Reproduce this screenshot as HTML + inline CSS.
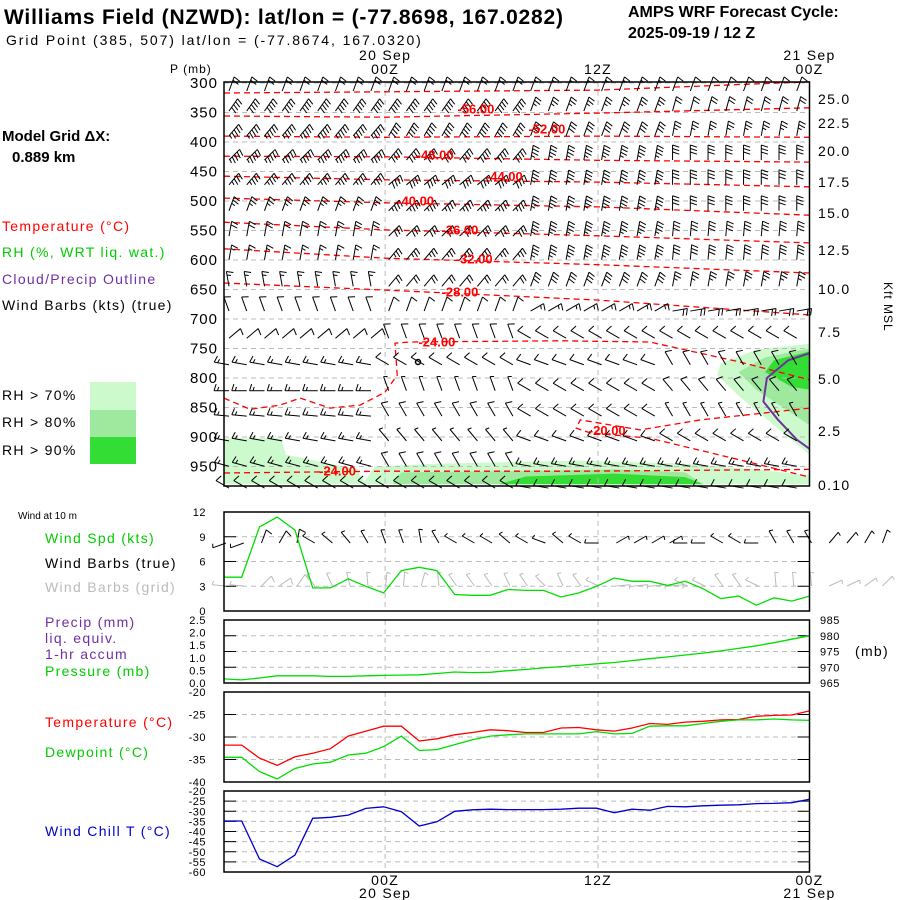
<!DOCTYPE html>
<html><head><meta charset="utf-8">
<style>
body{margin:0;background:#fff;}
svg{display:block;font-family:"Liberation Sans",sans-serif;}
.t{font-size:14px;letter-spacing:1.3px}
.s{font-size:12px;letter-spacing:1px}
</style></head>
<body>
<svg id="chart" width="900" height="900" viewBox="0 0 900 900" xmlns="http://www.w3.org/2000/svg">
<rect width="900" height="900" fill="#fff"/>
<g>
<text x="4" y="24" font-size="21" font-weight="bold" letter-spacing="0.8">Williams Field (NZWD):  lat/lon = (-77.8698, 167.0282)</text>
<text x="6" y="45" font-size="14" letter-spacing="1.9">Grid Point (385, 507) lat/lon = (-77.8674, 167.0320)</text>
<text x="628" y="17" font-size="16" font-weight="bold">AMPS WRF Forecast Cycle:</text>
<text x="628" y="38" font-size="16" font-weight="bold">2025-09-19 / 12  Z</text>
</g>
<g>
<text x="2" y="141" font-size="15" font-weight="bold">Model Grid ΔX:</text>
<text x="12" y="162" font-size="15" font-weight="bold">0.889 km</text>
<text x="2" y="231" class="t" fill="#ff0000">Temperature (°C)</text>
<text x="2" y="257" class="t" fill="#00cc00">RH (%, WRT liq. wat.)</text>
<text x="2" y="284" class="t" fill="#7030a0">Cloud/Precip Outline</text>
<text x="2" y="310" class="t">Wind Barbs (kts) (true)</text>
<rect x="90" y="382" width="46" height="28" fill="#ccfacc"/>
<rect x="90" y="410" width="46" height="27" fill="#9ee99e"/>
<rect x="90" y="437" width="46" height="27" fill="#33dd33"/>
<text x="2" y="400" class="t">RH &gt; 70%</text>
<text x="2" y="427" class="t">RH &gt; 80%</text>
<text x="2" y="455" class="t">RH &gt; 90%</text>
<text x="18" y="519" font-size="10">Wind at 10 m</text>
<text x="45" y="543" class="t" fill="#00cc00">Wind Spd (kts)</text>
<text x="45" y="568" class="t">Wind Barbs (true)</text>
<text x="45" y="592" class="t" fill="#bbbbbb">Wind Barbs (grid)</text>
<text x="45" y="627" class="t" fill="#7030a0">Precip (mm)</text>
<text x="45" y="643" class="t" fill="#7030a0">liq. equiv.</text>
<text x="45" y="659" class="t" fill="#7030a0">1-hr accum</text>
<text x="45" y="676" class="t" fill="#00cc00">Pressure (mb)</text>
<text x="45" y="727" class="t" fill="#ff0000">Temperature (°C)</text>
<text x="45" y="757" class="t" fill="#00cc00">Dewpoint (°C)</text>
<text x="45" y="836" class="t" fill="#0000cc">Wind Chill T (°C)</text>
</g>
<g id="plots"></g>
</svg>
<script>
// ---------- data ----------
const hours = [0,1,2,3,4,5,6,7,8,9,10,11,12,13,14,15,16,17,18,19,20,21,22,23,24,25,26,27,28,29,30,31,32,33];
const windSpd = [4.1,4.1,10.2,11.4,9.8,2.8,2.8,3.9,3.0,2.2,4.9,5.3,4.9,2.0,1.9,1.9,2.6,2.5,2.5,1.7,2.2,3.0,4.0,3.6,3.6,3.1,3.6,2.7,1.5,1.8,0.7,1.6,1.2,1.8];
const pressure = [966.3,966.0,966.6,967.3,967.3,967.3,967.1,967.1,967.3,967.4,967.5,967.6,968.0,968.5,968.3,968.4,968.9,969.3,969.8,970.2,970.6,971.1,971.5,972.1,972.7,973.3,973.9,974.5,975.2,976.0,976.8,977.8,978.9,980.0];
const temp = [-31.8,-31.8,-34.7,-36.3,-34.4,-33.6,-32.6,-29.8,-28.7,-27.6,-27.6,-30.9,-30.4,-29.5,-29.0,-28.4,-28.6,-29.0,-29.0,-28.0,-27.9,-28.4,-28.7,-28.0,-27.0,-27.2,-26.7,-26.5,-26.2,-26.1,-25.4,-25.2,-25.1,-24.2];
const dewpt = [-34.5,-34.5,-37.7,-39.3,-37.0,-36.0,-35.6,-34.0,-33.6,-32.1,-29.8,-33.0,-32.8,-31.7,-30.6,-29.8,-29.5,-29.3,-29.3,-29.3,-29.3,-28.8,-29.3,-29.2,-27.6,-27.5,-27.5,-27.0,-26.5,-26.2,-26.2,-26.0,-26.2,-26.3];
const windChill = [-34.8,-34.8,-53.6,-57.4,-51.6,-33.5,-33.0,-31.9,-28.6,-27.8,-30.2,-37.3,-35.2,-30.0,-29.3,-29.0,-29.2,-29.2,-29.2,-29.0,-28.5,-28.5,-30.7,-29.0,-29.5,-27.6,-27.8,-27.3,-27.0,-26.8,-26.2,-26.1,-25.8,-24.1];
const sfcDir = [250,250,20,30,10,300,310,320,330,340,340,350,330,300,300,300,310,300,290,310,300,270,60,60,60,60,270,270,300,300,270,330,330,330,40,40,30,20];
const sfcSpd = [5,5,10,10,10,5,5,5,5,5,5,5,5,5,5,5,5,5,5,5,5,5,5,5,5,5,5,5,5,5,5,5,5,5,5,5,5,5];
const pLevels = [300,350,400,450,500,550,600,650,700,750,800,850,900,950];
const pTickLabels = ["300","350","400","450","500","550","600","650","700","750","800","850","900","950"];
const kftTicks = [["25.0",99],["22.5",123],["20.0",151],["17.5",182],["15.0",213],["12.5",250],["10.0",289],["7.5",332],["5.0",379],["2.5",431],["0.10",485]];
const barbLevels = [300,334,376,417,459,503,546,586,631,673,719,764,808,851,893,936,973];
const barbDirSeg = [[20,20,20,20],[35,35,20,15],[40,30,20,10],[45,40,10,0],[40,50,10,0],[20,45,10,0],[10,45,10,5],[10,40,10,5],[350,40,20,10],[340,20,60,80],[50,340,300,300],[280,300,290,330],[270,340,300,320],[275,330,300,330],[280,320,290,300],[285,330,280,280],[300,300,280,280]];
const barbSpdSeg = [[20,20,15,10],[40,40,25,20],[45,40,30,25],[45,40,35,30],[35,40,35,30],[25,35,35,30],[20,30,35,30],[15,25,35,30],[15,20,30,25],[10,10,15,20],[10,10,10,10],[15,10,10,10],[15,5,10,10],[15,10,10,5],[15,5,10,10],[15,10,15,15],[10,10,10,10]];
const isoHours = [0,9.1,21.1,33];
const iso60 = [317,315,312,298];
const iso56 = [356,358,351,342];
const iso52 = [390,392,390,392];
const iso48 = [424,425,431,434];
const iso44 = [458,464,468,476];
const iso40 = [495,503,510,524];
const iso36 = [536,549,559,571];
const iso32 = [581,597,608,622];
const iso28 = [639,651,668,693];
const iso24aH = [0,1.47,3.16,4.29,5.98,7.67,9.08,9.76,9.64,10.5,18.95,24.0,29.1,33];
const iso24aP = [834,853,846,834,851,846,824,795,741,739,737,739,773,803];
const iso20H = [33,26.85,23.46,20.08,19.85,20.64,24.0,29.1,33];
const iso20P = [851,871,888,871,885,893,902,939,968];
const iso24bH = [0,9,20,33];
const iso24bP = [961,958,958,955];
const isoLabels = [["-56.00",14.2,352],["-52.00",18.2,386],["-48.00",11.9,430],["-44.00",15.8,466],["-40.00",10.8,508],["-36.00",13.3,557],["-32.00",14.1,606],["-28.00",13.3,662],["-24.00",12.0,747],["-20.00",21.6,897],["-24.00",6.4,965]];
const rh70a = [[0,902],[3.2,902],[3.5,930],[7.5,955],[8,980],[0,980]];
const rh70b = [[7.8,980],[8.5,950],[12,945],[20,940],[26,945],[30,955],[33,965],[33,980]];
const rh80b = [[9.5,980],[10,960],[16,958],[22,955],[26,960],[27,980]];
const rh90b = [[15.5,980],[17,967],[22,962],[26,968],[27,980]];
const rh70c = [[33,742],[30,752],[28,775],[27.8,795],[29,830],[31,880],[33,930]];
const rh80c = [[33,750],[30.5,765],[29,790],[30,820],[32,860],[33,880]];
const rh90c = [[33,755],[31,770],[30.5,790],[32,815],[33,820]];
const cloudOutline = [[33,758],[31.8,770],[30.6,800],[30.4,840],[31.2,870],[32.3,905],[33,920]];

// ---------- scales ----------
const X0=224, X1=809.5;
const xh = h => X0 + h*(X1-X0)/33;
const yp = p => 83 + (p-300)*29.5/50;
const yw = v => 611 - v*8.25;
const yP = mb => 683 - (mb-965)*3.15;
const yPr = mm => 683 - mm*25.2;
const yt = t => 692 + (-20 - t)*4.5;
const yc = t => 791 + (-20 - t)*2.025;
const NS="http://www.w3.org/2000/svg";
const root=document.getElementById('plots');
function mk(tag, attrs, parent){const e=document.createElementNS(NS,tag);for(const k in attrs)e.setAttribute(k,attrs[k]);(parent||root).appendChild(e);return e;}
function txt(x,y,s,attrs,parent){const e=mk('text',Object.assign({x:x,y:y},attrs),parent);e.textContent=s;return e;}
function poly(pts){return pts.map(p=>p[0].toFixed(1)+','+p[1].toFixed(1)).join(' ');}

// ---------- main panel ----------
const main=mk('g',{});


[[rh70a,'#ccfacc'],[rh70b,'#ccfacc'],[rh80b,'#9ee99e'],[rh90b,'#33dd33'],[rh70c,'#ccfacc'],[rh80c,'#9ee99e'],[rh90c,'#33dd33']].forEach(function(r){
  const e=mk('polygon',{points:poly(r[0].map(q=>[xh(q[0]),yp(q[1])])),fill:r[1]},main);
  
  
});
pLevels.forEach(function(p,i){
  const l=mk('line',{x1:X0,x2:X1,y1:yp(p),y2:yp(p),stroke:'#bbb','stroke-dasharray':'5,4'},main);
  
  
  const t=txt(218,yp(p)+5,pTickLabels[i],{'text-anchor':'end','font-size':15,'letter-spacing':1},main);
  
  
});
[9.08,21.08].forEach(function(h){
  const l=mk('line',{x1:xh(h),x2:xh(h),y1:82,y2:486,stroke:'#bbb','stroke-dasharray':'5,4'},main);
  
  
});
function isoLine(H,P){
  const e=mk('polyline',{points:poly(H.map((h,i)=>[xh(h),yp(P[i])])),fill:'none',stroke:'#ff0000','stroke-width':1.3,'stroke-dasharray':'6,4'},main);
  
  
}
[iso60,iso56,iso52,iso48,iso44,iso40,iso36,iso32,iso28].forEach(a=>isoLine(isoHours,a));
isoLine(iso24aH,iso24aP); isoLine(iso20H,iso20P); isoLine(iso24bH,iso24bP);
const co=mk('polyline',{points:poly(cloudOutline.map(q=>[xh(q[0]),yp(q[1])])),fill:'none',stroke:'#7030a0','stroke-width':2},main);


const dot=mk('circle',{cx:418,cy:362,r:2.5,fill:'none',stroke:'#000','stroke-width':1.5},main);



function barb(x,y,dir,spd,color,parent,L){
  const g=mk('g',{stroke:color,'stroke-width':1,fill:'none'},parent);
  
  
  const a=dir*Math.PI/180, dx=Math.sin(a), dy=-Math.cos(a);
  const ex=x+dx*L, ey=y+dy*L;
  mk('line',{x1:x,y1:y,x2:ex,y2:ey},g);
  const pa=a+Math.PI*0.6, px=Math.sin(pa), py=-Math.cos(pa);
  let n=Math.floor(spd/10), half=(spd%10)>=5, k=0;
  for(let i=0;i<n;i++){const bx=ex-dx*k*3.5, by=ey-dy*k*3.5;mk('line',{x1:bx,y1:by,x2:bx+px*7,y2:by+py*7},g);k++;}
  if(half){const bx=ex-dx*k*3.5, by=ey-dy*k*3.5;mk('line',{x1:bx,y1:by,x2:bx+px*4,y2:by+py*4},g);}
}
barbLevels.forEach(function(p,r){
  hours.slice(0,33).forEach(function(h){
    const s=h<9?0:h<17?1:h<25?2:3;
    barb(xh(h)+5,yp(p)+8,barbDirSeg[r][s],barbSpdSeg[r][s],'#000',main,15);
  });
});
isoLabels.forEach(function(l){
  const t=txt(xh(l[1]),yp(l[2]),l[0],{fill:'#ff0000','font-size':13,'font-weight':'bold','text-anchor':'middle'},main);
  
  
});
const fr=mk('rect',{x:X0,y:82,width:X1-X0,height:404,fill:'none',stroke:'#000','stroke-width':1.5},main);


txt(170,73,'P (mb)',{class:'s'},main);
[['20 Sep',9.08,60],['00Z',9.08,74],['12Z',21.08,74],['21 Sep',33,60],['00Z',33,74]].forEach(function(l){
  const t=txt(xh(l[1]),l[2],l[0],{'text-anchor':'middle',class:'t'},main);
  
  
});
kftTicks.forEach(function(k){
  const t=txt(818,k[1]+5,k[0],{class:'t'},main);
  
  
});
const kt=txt(0,0,'Kft MSL',{class:'s',transform:'translate(884,282) rotate(90)'},main);



// ---------- lower panels ----------
function panel(name,top,bot,gridYs,ticks){
  const g=mk('g',{});
  
  
  gridYs.forEach(function(y){
    const l=mk('line',{x1:X0,x2:X1,y1:y,y2:y,stroke:'#bbb','stroke-dasharray':'5,4'},g);
    
    
    mk('line',{x1:X0,x2:X0+12,y1:y,y2:y,stroke:'#000'},g);
    mk('line',{x1:X1-12,x2:X1,y1:y,y2:y,stroke:'#000'},g);
  });
  [9.08,21.08].forEach(h=>mk('line',{x1:xh(h),x2:xh(h),y1:top,y2:bot,stroke:'#bbb','stroke-dasharray':'5,4'},g));
  ticks.forEach(function(t){
    const e=txt(206,t[1]+4,t[0],{'text-anchor':'end','font-size':11,'letter-spacing':0.5},g);
    
    
  });
  return g;
}
function series(g,vals,fy,color,name){
  const e=mk('polyline',{points:poly(vals.map((v,i)=>[xh(hours[i]),fy(v)])),fill:'none',stroke:color,'stroke-width':1.3},g);
  
  
}
function frame(g,top,bot){
  const f=mk('rect',{x:X0,y:top,width:X1-X0,height:bot-top,fill:'none',stroke:'#000','stroke-width':1.5},g);
  
  
}
// wind panel
const wp=panel('wind-panel',512,611,[yw(3),yw(6),yw(9)],[['12',yw(12)],['9',yw(9)],['6',yw(6)],['3',yw(3)],['0',yw(0)]]);
sfcDir.forEach(function(d,i){
  const x=xh(i);
  barb(x+2,586,(d+25)%360,sfcSpd[i],'#bbbbbb',wp,14);
  barb(x+2,543,d,sfcSpd[i],'#000',wp,14);
});
series(wp,windSpd,yw,'#00dd00','wind-speed-line');
frame(wp,512,611);
// pressure panel
const pp=panel('pressure-panel',620,683,[yP(970),yP(975),yP(980)],[['2.5',yPr(2.5)],['2.0',yPr(2.0)],['1.5',yPr(1.5)],['1.0',yPr(1.0)],['0.5',yPr(0.5)],['0.0',yPr(0)]]);
[['985',985],['980',980],['975',975],['970',970],['965',965]].forEach(function(t){
  const e=txt(820,yP(t[1])+4,t[0],{'font-size':11,'letter-spacing':0.5},pp);
  
  
});
txt(855,656,'(mb)',{class:'t'},pp);
series(pp,pressure,yP,'#00dd00','pressure-line');
frame(pp,620,683);
// temperature panel
const tp=panel('temperature-panel',692,782,[yt(-25),yt(-30),yt(-35)],[['-20',692],['-25',yt(-25)],['-30',yt(-30)],['-35',yt(-35)],['-40',782]]);
series(tp,temp,yt,'#ff0000','temperature-line');
series(tp,dewpt,yt,'#00dd00','dewpoint-line');
frame(tp,692,782);
// wind chill panel
const wcTicks=[-20,-25,-30,-35,-40,-45,-50,-55,-60];
const cp=panel('windchill-panel',791,872,wcTicks.slice(1,8).map(yc),wcTicks.map(v=>[String(v),yc(v)]));
series(cp,windChill,yc,'#0000cc','windchill-line');
frame(cp,791,872);
[['00Z',9.08,885],['20 Sep',9.08,898],['12Z',21.08,885],['00Z',33,885],['21 Sep',33,898]].forEach(function(l){
  const t=txt(xh(l[1]),l[2],l[0],{'text-anchor':'middle',class:'t'});
  
  
});
</script>
</body></html>
